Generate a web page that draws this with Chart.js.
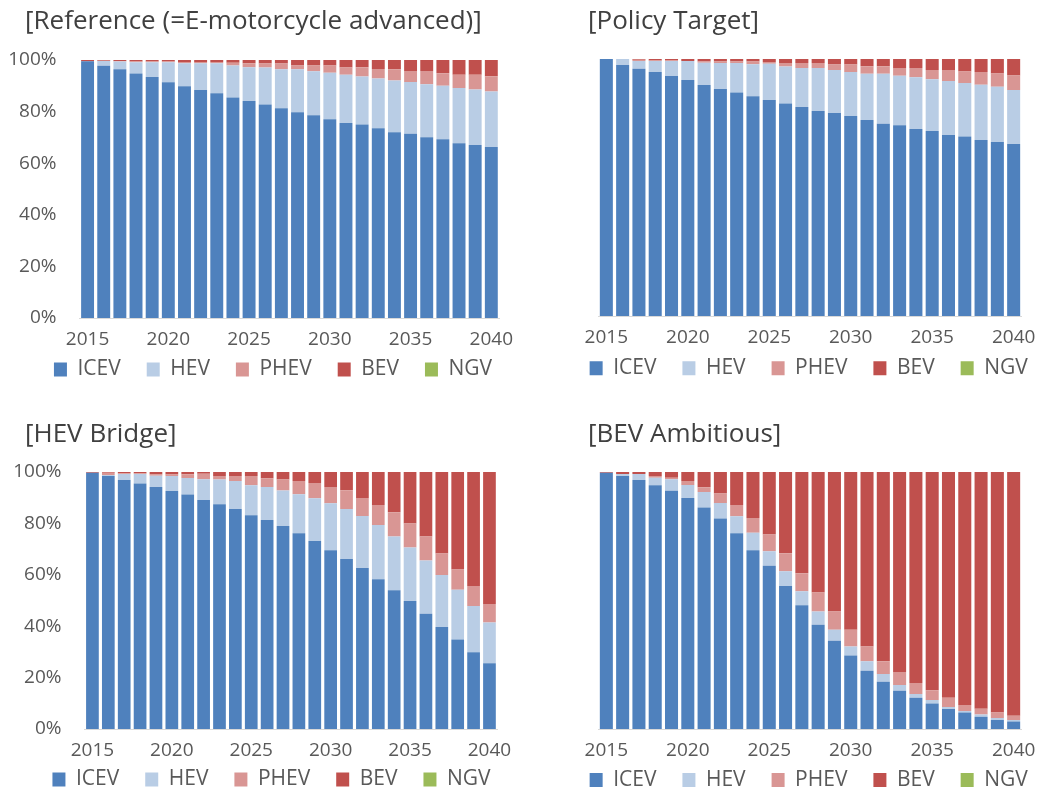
<!DOCTYPE html>
<html>
<head>
<meta charset="utf-8">
<script src="https://cdn.jsdelivr.net/npm/chart.js@4.4.1/dist/chart.umd.min.js"></script>
<style>
  html, body { margin: 0; padding: 0; background: #ffffff; overflow: hidden; width: 1048px; height: 798px; }
  canvas { position: absolute; }
</style>
</head>
<body>
<canvas id="c1"></canvas>
<canvas id="c2"></canvas>
<canvas id="c3"></canvas>
<canvas id="c4"></canvas>
<script>
// Vehicle sales share by powertrain, 2015-2040, four scenarios (percent of sales)
const years = ['2015','2016','2017','2018','2019','2020','2021','2022','2023','2024','2025','2026','2027',
               '2028','2029','2030','2031','2032','2033','2034','2035','2036','2037','2038','2039','2040'];
const yearTicks = ['2015','2020','2025','2030','2035','2040'];
const seriesNames = ['ICEV','HEV','PHEV','BEV','NGV'];
const seriesColors = ['#4F81BD','#B9CDE5','#D99694','#C0504D','#9BBB59'];
const panelTitles = ['[Reference (=E-motorcycle advanced)]','[Policy Target]','[HEV Bridge]','[BEV Ambitious]'];

// [Reference (=E-motorcycle advanced)]
const refIcev = [99.5,97.8,96.4,94.8,93.4,91.4,89.8,88.4,87.1,85.5,84.1,82.8,81.3,79.7,78.6,77.0,75.6,75.0,73.5,72.0,71.4,70.1,69.3,67.7,67.1,66.3];
const refHev  = [0,1.8,3.0,4.3,5.7,7.7,8.9,10.3,11.6,12.4,13.1,14.3,15.1,16.7,17.0,18.1,18.7,18.6,19.3,20.1,20.1,20.5,20.7,21.4,21.5,21.5];
const refPhev = [0,0.1,0.2,0.3,0.3,0.3,0.5,0.5,0.5,1.0,1.5,1.5,2.2,1.5,2.3,2.8,2.8,3.6,3.7,4.3,4.2,5.1,4.9,5.2,5.7,5.9];
const refBev  = [0.5,0.3,0.4,0.6,0.6,0.6,0.8,0.8,0.8,1.1,1.3,1.4,1.4,2.1,2.1,2.1,2.9,2.8,3.5,3.6,4.3,4.3,5.1,5.7,5.7,6.3];
const refNgv  = [0,0,0,0,0,0,0,0,0,0,0,0,0,0,0,0,0,0,0,0,0,0,0,0,0,0];

// [Policy Target]
const polIcev = [100,97.7,96.2,94.9,93.4,91.8,89.9,88.3,87.0,85.5,84.0,82.7,81.3,79.8,79.0,77.8,76.3,74.8,74.2,72.8,72.0,70.4,69.8,68.5,67.7,66.9];
const polHev  = [0,2.3,3.0,4.3,5.8,7.4,8.6,10.1,11.4,12.5,14.2,14.4,15.2,16.7,16.7,17.1,18.0,19.5,19.3,20.1,20.1,21.0,20.9,21.5,21.5,21.0];
const polPhev = [0,0,0.5,0.2,0.2,0,0.5,0.6,0.6,1.0,0.6,1.3,1.9,1.9,2.2,3.0,2.9,2.9,3.0,3.6,3.6,4.3,4.4,4.9,5.2,5.7];
const polBev  = [0,0,0.3,0.6,0.6,0.8,1.0,1.0,1.0,1.0,1.2,1.6,1.6,1.6,2.1,2.1,2.8,2.8,3.5,3.5,4.3,4.3,4.9,5.1,5.6,6.4];
const polNgv  = [0,0,0,0,0,0,0,0,0,0,0,0,0,0,0,0,0,0,0,0,0,0,0,0,0,0];

// [HEV Bridge]
const hevIcev = [99.7,98.4,96.9,95.5,94.2,92.6,91.2,89.1,87.5,85.6,83.2,81.3,79.0,76.2,73.2,69.6,66.1,62.6,58.3,54.0,49.8,44.8,39.7,34.8,29.9,25.6];
const hevHev  = [0,0.4,2.3,3.7,4.3,5.8,6.5,8.1,9.6,10.9,11.6,12.9,13.8,15.1,16.6,18.2,19.5,20.3,21.1,20.9,20.8,20.8,20.2,19.4,18.0,15.8];
const hevPhev = [0,0.9,0.3,0.3,0.5,0.6,1.4,2.1,1.3,1.9,3.6,3.4,4.3,5.2,5.9,6.4,7.3,7.0,7.8,9.4,9.4,9.3,8.4,7.9,7.7,7.2];
const hevBev  = [0.3,0.3,0.5,0.5,1.0,1.0,0.9,0.7,1.6,1.6,1.6,2.4,2.9,3.5,4.3,5.8,7.1,10.1,12.8,15.7,20.0,25.1,31.7,37.9,44.4,51.4];
const hevNgv  = [0,0,0,0,0,0,0,0,0,0,0,0,0,0,0,0,0,0,0,0,0,0,0,0,0,0];

// [BEV Ambitious]
const bevIcev = [99.7,98.4,96.9,94.8,92.7,89.9,86.2,81.9,76.2,69.6,63.5,55.6,48.2,40.6,34.3,28.6,22.7,18.4,14.9,12.2,9.9,7.8,6.4,4.8,3.5,2.9];
const bevHev  = [0,0.8,2.3,3.0,4.5,5.0,6.0,6.0,6.6,6.8,5.7,5.8,5.4,5.1,4.3,3.5,3.7,3.0,2.2,1.4,1.4,0.8,0.6,0.8,0.8,0.6];
const bevPhev = [0,0,0,0.6,0.6,1.6,1.9,3.7,4.4,5.7,6.5,7.0,7.0,7.4,7.1,6.5,5.7,5.0,5.1,4.3,3.8,3.6,2.3,2.3,2.1,1.7];
const bevBev  = [0.3,0.8,0.8,1.6,2.2,3.5,5.9,8.4,12.8,17.9,24.3,31.6,39.4,46.9,54.3,61.4,67.9,73.6,77.8,82.1,84.9,87.8,90.7,92.1,93.6,94.8];
const bevNgv  = [0,0,0,0,0,0,0,0,0,0,0,0,0,0,0,0,0,0,0,0,0,0,0,0,0,0];

Chart.defaults.font.family = '"Open Sans", "Noto Sans", sans-serif';
Chart.defaults.color = '#595959';

// Tick labels may sit outside their (deliberately narrow) axis boxes; widen the clip areas,
// and start the title at its own x offset independent of the centred legend.
const panelLayout = {
  id: 'panelLayout',
  afterLayout(chart, args, opts) {
    chart.scales.y.left = 0;
    chart.scales.x.bottom = chart.height;
    const t = chart.titleBlock;
    const w = t.right - t.left;
    t.left = opts.titleX;
    t.right = t.left + w;
  }
};

function buildChart(id, box, title, series) {
  const cv = document.getElementById(id);
  cv.width = box.w; cv.height = box.h;
  cv.style.left = box.x + 'px'; cv.style.top = box.y + 'px';
  return new Chart(cv, {
    type: 'bar',
    plugins: [panelLayout],
    data: {
      labels: years,
      datasets: series.map((vals, i) => ({
        label: seriesNames[i],
        data: vals,
        backgroundColor: seriesColors[i],
        borderWidth: 0,
        categoryPercentage: 1.0,
        barPercentage: 0.8
      }))
    },
    options: {
      responsive: false,
      animation: false,
      layout: { padding: { left: box.padL, right: box.padR, top: 0, bottom: box.padB } },
      plugins: {
        panelLayout: { titleX: box.titleX },
        tooltip: { enabled: false },
        title: {
          display: true, text: title, align: 'start', color: '#404040',
          font: { size: 26, weight: 'normal' },
          padding: { top: 6, bottom: box.titleBottom }
        },
        legend: {
          position: 'bottom',
          labels: { boxWidth: 13, boxHeight: 14, padding: 26, color: '#595959', font: { size: 21 } }
        }
      },
      scales: {
        x: {
          stacked: true,
          grid: { display: false, drawTicks: false },
          border: { display: true, color: '#D9D9D9', width: 1 },
          ticks: {
            autoSkip: false, maxRotation: 0, padding: 10, color: '#595959', font: { size: 19 },
            callback: (v, i) => yearTicks.includes(years[i]) ? years[i] : ''
          },
          afterFit: (s) => { s.height = box.xH; s.paddingRight = box.xPadR; }
        },
        y: {
          stacked: true, min: 0, max: 100,
          grid: { display: false, drawTicks: false },
          border: { display: false },
          ticks: {
            display: box.yLabels, stepSize: 20, padding: 23, color: '#595959', font: { size: 19 },
            callback: (v) => v + '%'
          },
          afterFit: (s) => { s.width = box.yW; }
        }
      }
    }
  });
}

buildChart('c1', { x: 0, y: 0, w: 524, h: 413, padL: 25, padR: 3, padB: 23, titleX: 25, titleBottom: 22.8,
  yW: 54.5, yLabels: true, xH: 15, xPadR: 24.6 }, panelTitles[0], [refIcev, refHev, refPhev, refBev, refNgv]);
buildChart('c2', { x: 520, y: 0, w: 560, h: 413, padL: 38.7, padR: 21.3, padB: 24.2, titleX: 68, titleBottom: 21.8,
  yW: 39.5, yLabels: false, xH: 15.8, xPadR: 58.2 }, panelTitles[1], [polIcev, polHev, polPhev, polBev, polNgv]);
buildChart('c3', { x: 0, y: 413, w: 524, h: 390, padL: 25, padR: 6, padB: 3, titleX: 25, titleBottom: 21.8,
  yW: 59.5, yLabels: true, xH: 14, xPadR: 26.6 }, panelTitles[2], [hevIcev, hevHev, hevPhev, hevBev, hevNgv]);
buildChart('c4', { x: 520, y: 413, w: 560, h: 390, padL: 38.7, padR: 21.3, padB: 2.5, titleX: 68, titleBottom: 21.8,
  yW: 39.5, yLabels: false, xH: 14.5, xPadR: 58.2 }, panelTitles[3], [bevIcev, bevHev, bevPhev, bevBev, bevNgv]);
</script>
</body>
</html>
